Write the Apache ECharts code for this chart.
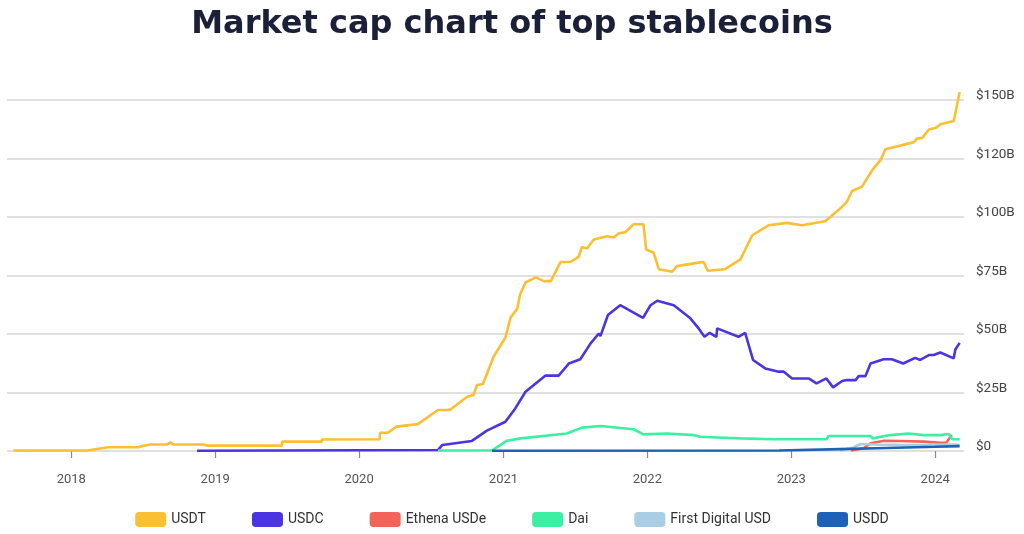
<!DOCTYPE html>
<html>
<head>
<meta charset="utf-8">
<script src="https://cdn.jsdelivr.net/npm/echarts@6/dist/echarts.min.js"></script>
<style>
html,body{margin:0;padding:0;background:#fff;}
#chart{width:1024px;height:534px;}
</style>
</head>
<body>
<div id="chart"></div>
<script>
const title = 'Market cap chart of top stablecoins';
const seriesNames = ['USDT', 'USDC', 'Ethena USDe', 'Dai', 'First Digital USD', 'USDD'];
const xTickYears = [2018, 2019, 2020, 2021, 2022, 2023, 2024];
const yTickLabels = ['$0', '$25B', '$50B', '$75B', '$100B', '$120B', '$150B'];

// values in billions USD
const usdt = [
  ['2017-08-07', 0.2], ['2018-02-11', 0.2], ['2018-04-05', 1.6], ['2018-06-20', 1.6],
  ['2018-07-02', 2.2], ['2018-07-20', 2.8], ['2018-09-02', 2.8], ['2018-09-09', 3.7],
  ['2018-09-17', 2.8], ['2018-12-02', 2.8], ['2018-12-12', 2.3], ['2019-06-19', 2.3],
  ['2019-06-20', 4.0], ['2019-09-28', 4.0], ['2019-09-29', 4.9], ['2020-02-22', 5.0],
  ['2020-02-23', 7.8], ['2020-03-14', 7.8], ['2020-04-05', 10.4], ['2020-05-29', 11.5],
  ['2020-07-19', 17.5], ['2020-08-18', 17.5], ['2020-10-01', 23.2], ['2020-10-17', 23.9],
  ['2020-10-26', 28.2], ['2020-11-10', 28.6], ['2020-12-07', 40.3], ['2021-01-06', 48.5],
  ['2021-01-19', 57.0], ['2021-02-05', 60.8], ['2021-02-12', 66.8], ['2021-02-26', 72.0],
  ['2021-03-24', 74.2], ['2021-04-14', 72.6], ['2021-05-01', 72.6], ['2021-05-26', 80.8],
  ['2021-06-20', 80.8], ['2021-07-11', 83.0], ['2021-07-19', 87.2], ['2021-08-01', 86.5],
  ['2021-08-18', 90.4], ['2021-09-21', 91.8], ['2021-10-08', 91.2], ['2021-10-20', 93.0],
  ['2021-11-06', 93.5], ['2021-11-27', 96.9], ['2021-12-22', 96.9], ['2021-12-29', 86.1],
  ['2022-01-17', 84.7], ['2022-01-30', 77.7], ['2022-03-05', 76.6], ['2022-03-17', 79.0],
  ['2022-05-15', 80.6], ['2022-05-24', 80.8], ['2022-06-03', 77.0], ['2022-07-17', 77.7],
  ['2022-08-25', 81.9], ['2022-09-24', 92.2], ['2022-11-05', 96.5], ['2022-12-21', 97.5],
  ['2023-01-28', 96.5], ['2023-03-28', 98.2], ['2023-05-05', 103.6], ['2023-05-22', 106.5],
  ['2023-06-04', 111.1], ['2023-06-29', 112.9], ['2023-07-25', 120.0], ['2023-08-15', 124.2],
  ['2023-08-28', 129.0], ['2023-11-08', 132.0], ['2023-11-16', 133.5], ['2023-11-29', 133.8],
  ['2023-12-16', 137.4], ['2024-01-01', 138.0], ['2024-01-14', 139.6], ['2024-02-17', 141.0],
  ['2024-03-03', 153.4]
];
const usdc = [
  ['2018-11-16', 0.1], ['2020-07-19', 0.4], ['2020-07-30', 2.6], ['2020-10-13', 4.3],
  ['2020-11-20', 8.7], ['2021-01-06', 12.5], ['2021-01-31', 18.2], ['2021-02-26', 25.3],
  ['2021-04-17', 32.2], ['2021-05-21', 32.2], ['2021-06-16', 37.4], ['2021-07-15', 39.2],
  ['2021-08-10', 46.0], ['2021-08-31', 50.2], ['2021-09-04', 49.1], ['2021-09-23', 58.1],
  ['2021-10-24', 62.3], ['2021-12-21', 56.9], ['2022-01-09', 62.3], ['2022-01-26', 64.2],
  ['2022-03-09', 62.3], ['2022-04-20', 56.7], ['2022-05-11', 52.4], ['2022-05-26', 48.8],
  ['2022-06-08', 50.5], ['2022-06-25', 48.8], ['2022-06-27', 52.4], ['2022-08-20', 48.8],
  ['2022-09-06', 50.5], ['2022-09-26', 38.9], ['2022-10-27', 35.3], ['2022-11-30', 33.9],
  ['2022-12-13', 33.9], ['2023-01-03', 31.0], ['2023-02-14', 31.0], ['2023-03-06', 28.9],
  ['2023-03-31', 31.0], ['2023-04-17', 27.2], ['2023-05-10', 29.9], ['2023-05-22', 30.3],
  ['2023-06-13', 30.3], ['2023-06-21', 32.0], ['2023-07-08', 32.0], ['2023-07-21', 37.4],
  ['2023-07-26', 37.4], ['2023-08-23', 39.2], ['2023-09-13', 39.2], ['2023-10-12', 37.4],
  ['2023-11-11', 39.8], ['2023-11-24', 38.9], ['2023-12-16', 41.0], ['2023-12-28', 41.0],
  ['2024-01-14', 42.1], ['2024-02-17', 39.6], ['2024-02-21', 43.4], ['2024-03-03', 46.2]
];
const usde = [
  ['2023-06-01', 0.2], ['2023-07-03', 1.1], ['2023-07-21', 3.3], ['2023-08-25', 4.4],
  ['2023-10-04', 4.3], ['2023-12-03', 4.0], ['2024-01-14', 3.5], ['2024-01-29', 3.5],
  ['2024-02-12', 6.8]
];
const dai = [
  ['2020-07-19', 0.2], ['2020-12-03', 0.3], ['2020-12-25', 2.6], ['2021-01-10', 4.4],
  ['2021-02-14', 5.4], ['2021-06-11', 7.5], ['2021-07-19', 10.0], ['2021-09-04', 10.7],
  ['2021-11-27', 9.3], ['2021-12-22', 7.1], ['2022-02-20', 7.5], ['2022-04-28', 6.8],
  ['2022-05-15', 6.1], ['2022-06-27', 5.8], ['2022-08-25', 5.4], ['2022-11-17', 5.0],
  ['2023-04-01', 5.0], ['2023-04-05', 6.4], ['2023-07-21', 6.4], ['2023-07-26', 5.4],
  ['2023-09-09', 6.8], ['2023-10-25', 7.5], ['2023-12-03', 6.8], ['2024-01-14', 6.8],
  ['2024-02-04', 7.3], ['2024-02-13', 5.0], ['2024-03-03', 5.0]
];
const fdusd = [
  ['2023-05-05', 0.2], ['2023-06-08', 1.5], ['2023-06-25', 3.0], ['2023-08-01', 2.8],
  ['2023-10-15', 2.5], ['2023-12-15', 2.6], ['2024-02-10', 2.8], ['2024-03-03', 2.7]
];
const usdd = [
  ['2020-12-03', 0.1], ['2022-12-01', 0.2], ['2023-05-05', 0.8], ['2023-09-01', 1.3],
  ['2024-01-01', 1.8], ['2024-03-03', 2.1]
];

const colors = ['#FBBF33', '#4B35E0', '#F4635A', '#3CEFA2', '#A9CDE4', '#1E62B8'];
const dataList = [usdt, usdc, usde, dai, fdusd, usdd];

function ts(str) {
  const p = str.split('-').map(Number);
  return Date.UTC(p[0], p[1] - 1, p[2]);
}
const yearTs = xTickYears.map(y => Date.UTC(y, 0, 1));

const chart = echarts.init(document.getElementById('chart'), null, {renderer: 'canvas'});

chart.setOption({
  animation: false,
  backgroundColor: '#ffffff',
  color: colors,
  title: {
    text: title,
    left: 'center',
    top: 4,
    textStyle: {fontFamily: 'DejaVu Sans', fontSize: 32, fontWeight: 'bold', color: '#1B1F38'}
  },
  legend: {
    bottom: 2,
    left: 'center',
    icon: 'roundRect',
    itemWidth: 31,
    itemHeight: 15,
    itemGap: 46,
    textStyle: {fontFamily: 'Roboto', fontSize: 14, color: '#333'},
    data: seriesNames
  },
  grid: {left: 7, right: 60, top: 100, bottom: 83, containLabel: false},
  xAxis: {
    type: 'value',
    min: Date.UTC(2017, 6, 22),
    max: Date.UTC(2024, 2, 14),
    offset: 4,
    axisLine: {show: false},
    splitLine: {show: false},
    axisTick: {show: true, length: 7, customValues: yearTs, lineStyle: {color: '#8a8a8a', width: 1.2}},
    axisLabel: {
      customValues: yearTs,
      margin: 18,
      fontFamily: 'Roboto', fontSize: 13, color: '#555',
      formatter: v => String(new Date(v).getUTCFullYear())
    }
  },
  yAxis: {
    type: 'value',
    position: 'right',
    min: 0, max: 150, interval: 25,
    axisLine: {show: false},
    axisTick: {show: false},
    splitLine: {lineStyle: {color: '#d6d6d6', width: 1.5}},
    axisLabel: {
      margin: 12,
      verticalAlign: 'bottom',
      lineHeight: 8,
      fontFamily: 'Roboto', fontSize: 13.5, color: '#444',
      formatter: v => yTickLabels[Math.round(v / 25)]
    }
  },
  series: seriesNames.map((name, i) => ({
    name: name,
    type: 'line',
    clip: false,
    data: dataList[i].map(d => [ts(d[0]), d[1]]),
    showSymbol: false,
    symbol: 'none',
    lineStyle: {width: 2.6, color: colors[i]},
    itemStyle: {color: colors[i]},
    emphasis: {disabled: true}
  }))
});
</script>
</body>
</html>
